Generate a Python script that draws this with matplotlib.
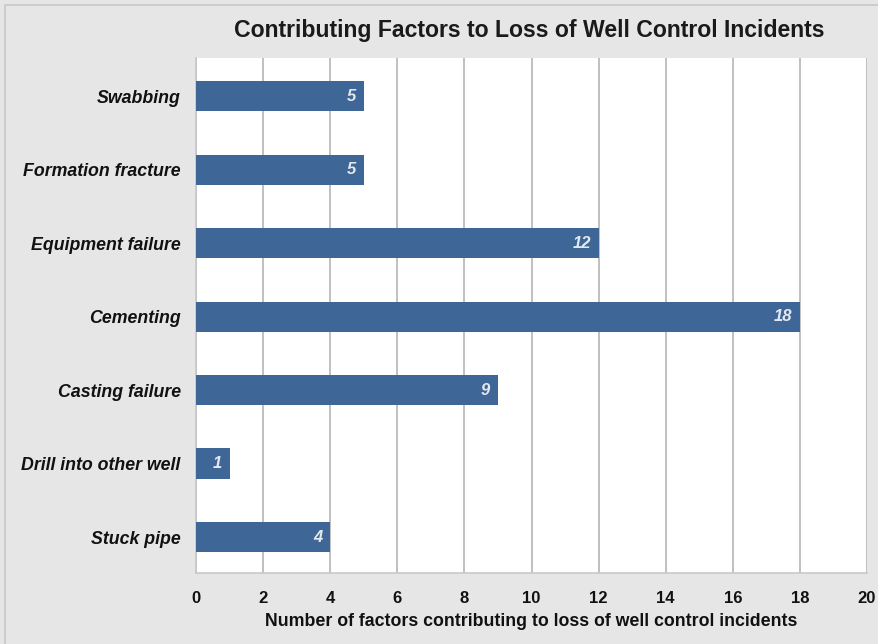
import matplotlib
matplotlib.use("Agg")
import matplotlib.pyplot as plt
from matplotlib.patches import Rectangle

categories = ["Swabbing", "Formation fracture", "Equipment failure", "Cementing",
              "Casting failure", "Drill into other well", "Stuck pipe"]
values = [5, 5, 12, 18, 9, 1, 4]
xticks = [0, 2, 4, 6, 8, 10, 12, 14, 16, 18, 20]

plt.rcParams['font.family'] = ['Liberation Sans', 'DejaVu Sans']

bg = '#e6e6e6'
fig = plt.figure(figsize=(8.79, 6.44), dpi=100, facecolor=bg)
ax = fig.add_axes([196/879, 1-573/644, (867-196)/879, (573-58)/644])
ax.set_facecolor('white')

ypos = list(range(len(categories)))
ax.barh(ypos, values, height=0.41, color='#3e6697', zorder=3)
ax.set_ylim(len(categories)-0.51, -0.52)
ax.set_xlim(0, 20)
ax.set_xticks(xticks)
ax.set_xticklabels([str(t) for t in xticks], fontsize=12, fontweight='bold', color='#111111')
ax.set_yticks(ypos)
ax.set_yticklabels(categories, fontsize=12.8, fontweight='bold', fontstyle='italic', color='#111111')
ax.tick_params(axis='both', length=0)
ax.tick_params(axis='y', pad=11)
ax.tick_params(axis='x', pad=13)
ax.grid(axis='x', color='#b5b5b5', linewidth=1.2, zorder=1)
for s in ['top', 'right']:
    ax.spines[s].set_visible(False)
for s in ['left', 'bottom']:
    ax.spines[s].set_color('#c8c8c8')
    ax.spines[s].set_linewidth(1.2)

for y, v in zip(ypos, values):
    ax.annotate(str(v), xy=(v, y), xytext=(-5.5, 0), textcoords='offset points',
                ha='right', va='center', color='#e4e9f0', fontsize=12,
                fontweight='bold', fontstyle='italic', zorder=4)

ax.set_xlabel("Number of factors contributing to loss of well control incidents",
              fontsize=12.8, fontweight='bold', labelpad=5, color='#111111')
fig.text(529/879, 1-31/644, "Contributing Factors to Loss of Well Control Incidents",
         ha='center', va='center', fontsize=16.6, fontweight='bold', color='#1a1a1a')

fig.patches.append(Rectangle((5/879, -0.1), 1.1, 1.1-5/644, transform=fig.transFigure,
                             fill=False, edgecolor='#c8c8c8', linewidth=1.2))

fig.savefig("out.png", dpi=100, facecolor=bg)
